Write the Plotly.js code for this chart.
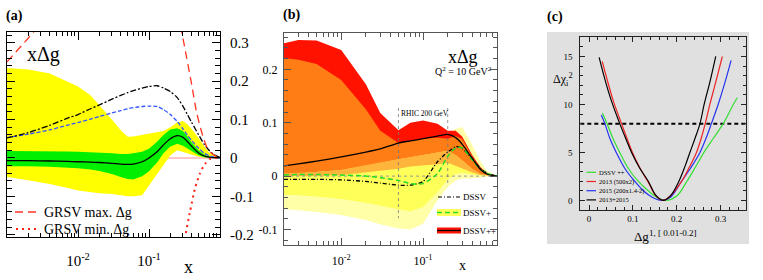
<!DOCTYPE html>
<html><head><meta charset="utf-8">
<script src="https://cdn.plot.ly/plotly-3.0.1.min.js"></script>
<style>html,body{margin:0;padding:0;background:#fff;}#chart{width:763px;height:280px;}</style>
</head><body><div id="chart"></div>
<script>
// ---------------- Panel (a) data ----------------
const xA = [0.001,0.002,0.004,0.007,0.01,0.015,0.02,0.03,0.04,0.05,0.06,0.08,0.1,0.13,0.16,0.2,0.25,0.3,0.35,0.4,0.5,0.6,0.7,0.8,1.0];
const aYellowUp = [0.234,0.23,0.22,0.2,0.186,0.163,0.138,0.1,0.072,0.055,0.056,0.06,0.063,0.066,0.07,0.08,0.093,0.096,0.087,0.075,0.052,0.03,0.015,0.007,0.001];
const aYellowLo = [-0.05,-0.058,-0.068,-0.078,-0.085,-0.089,-0.092,-0.094,-0.097,-0.1,-0.1,-0.097,-0.073,-0.042,-0.018,0.007,0.02,0.016,0.012,0.008,0.003,0.001,0,0,0];
const aGreenUp = [0.018,0.018,0.018,0.017,0.016,0.015,0.014,0.012,0.01,0.01,0.012,0.016,0.024,0.042,0.06,0.074,0.077,0.07,0.055,0.04,0.02,0.009,0.004,0.002,0];
const aGreenLo = [-0.022,-0.022,-0.023,-0.025,-0.027,-0.03,-0.034,-0.042,-0.05,-0.055,-0.056,-0.048,-0.035,-0.012,0.012,0.03,0.037,0.032,0.024,0.017,0.007,0.002,0.001,0,0];
const aCentral = [-0.007,-0.007,-0.008,-0.009,-0.01,-0.011,-0.012,-0.014,-0.016,-0.017,-0.016,-0.01,0.0,0.016,0.034,0.05,0.058,0.054,0.042,0.03,0.013,0.005,0.002,0.001,0];
const aGrsvStd = [0.052,0.066,0.085,0.103,0.113,0.128,0.138,0.153,0.163,0.17,0.175,0.182,0.186,0.188,0.182,0.173,0.157,0.135,0.112,0.092,0.06,0.035,0.02,0.01,0.001];
const aBlue = [0.053,0.062,0.073,0.085,0.092,0.101,0.108,0.117,0.123,0.128,0.131,0.134,0.135,0.134,0.126,0.113,0.095,0.076,0.058,0.045,0.025,0.012,0.006,0.003,0];
const grsvMaxX = [0.001,0.0025,0.004,0.01,0.05,0.15,0.25,0.34,0.4,0.466,0.55,0.65,0.76,0.9,1.0];
const grsvMaxY = [0.25,0.333,0.38,0.5,0.7,0.6,0.39,0.26,0.19,0.12,0.068,0.029,0.012,0.003,0];
const grsvMinX = [0.25,0.321,0.378,0.445,0.522,0.613,0.72,0.9,1.0];
const grsvMinY = [-0.35,-0.209,-0.14,-0.079,-0.04,-0.016,-0.003,0,0];
const aTickVals = [-0.2,-0.1,0,0.1,0.2,0.3];
const aTickText = ['-0.2','-0.1','0','0.1','0.2','0.3'];
const logTickVals = [0.01,0.1];
const logTickText = ['10<sup>-2</sup>','10<sup>-1</sup>'];

// ---------------- Panel (b) data ----------------
const xB = [0.002,0.003,0.005,0.01,0.02,0.03,0.05,0.07,0.1,0.15,0.2,0.25,0.3,0.4,0.5,0.6,0.8];
const bPaleUp = [0.221,0.218,0.21,0.18,0.125,0.085,0.062,0.066,0.07,0.072,0.078,0.088,0.092,0.058,0.028,0.01,0];
const bPaleLo = [-0.062,-0.064,-0.067,-0.073,-0.082,-0.09,-0.098,-0.1,-0.089,-0.045,-0.02,-0.008,-0.005,-0.004,-0.003,-0.001,0];
const bYellowLo = [-0.035,-0.036,-0.038,-0.043,-0.05,-0.055,-0.062,-0.066,-0.058,-0.03,-0.006,0.004,0.006,0.003,0.001,0,0];
const bRedUp = [0.249,0.255,0.254,0.236,0.172,0.118,0.086,0.1,0.104,0.098,0.085,0.085,0.074,0.039,0.017,0.006,0];
const bOrangeUp = [0.221,0.218,0.21,0.18,0.125,0.085,0.062,0.066,0.07,0.072,0.07,0.075,0.07,0.036,0.015,0.005,0];
const bOrangeLo = [0.005,0.006,0.008,0.012,0.02,0.025,0.032,0.036,0.04,0.045,0.048,0.04,0.03,0.014,0.005,0.002,0];
const bLightOrangeLo = [0.0,0.0,0.0,0.002,0.006,0.01,0.014,0.018,0.02,0.022,0.025,0.02,0.015,0.007,0.002,0.001,0];
const bDSSV = [-0.006,-0.006,-0.006,-0.007,-0.01,-0.013,-0.017,-0.017,-0.01,0.027,0.045,0.055,0.052,0.032,0.015,0.006,0];
const bDSSVp = [0.002,0.003,0.003,0.002,0.0,-0.003,-0.008,-0.014,-0.014,0.005,0.037,0.053,0.053,0.03,0.013,0.005,0];
const bDSSVpp = [0.019,0.023,0.028,0.036,0.045,0.051,0.062,0.066,0.07,0.075,0.078,0.072,0.06,0.033,0.013,0.004,0];
const rhicX = [0.05,0.2];
const rhicTop = [0.1275,0.1275];
const rhicBottom = [-0.079,-0.019];
const bTickVals = [-0.1,0,0.1,0.2];
const bTickText = ['-0.1','0','0.1','0.2'];

// ---------------- Panel (c) data ----------------
const cGreenX = [0.0304,0.041,0.055,0.07,0.09,0.112,0.135,0.155,0.177,0.2,0.222,0.243,0.262,0.284,0.306,0.329,0.338];
const cGreenY = [9.1,8.0,6.4,5.0,3.3,2.0,1.0,0.3,0.0,0.45,1.9,3.5,5.0,6.5,8.0,10.0,10.7];
const cRedX = [0.03,0.04,0.055,0.074,0.087,0.099,0.117,0.135,0.152,0.169,0.186,0.21,0.228,0.245,0.256,0.265,0.2755,0.29,0.304];
const cRedY = [14.5,12.8,10.4,8.0,6.4,5.0,3.3,1.9,0.5,0.0,0.5,1.9,3.4,5.0,6.5,8.0,10.0,12.5,15.0];
const cBlueX = [0.028,0.036,0.048,0.062,0.082,0.104,0.125,0.145,0.165,0.185,0.211,0.232,0.253,0.267,0.279,0.2945,0.31,0.324];
const cBlueY = [8.9,8.0,6.4,5.0,3.3,2.0,0.95,0.3,0.0,0.3,2.0,3.4,5.0,6.5,8.0,10.0,12.3,14.6];
const cBlackX = [0.023,0.035,0.05,0.07,0.085,0.097,0.115,0.135,0.152,0.169,0.186,0.205,0.22,0.23,0.242,0.253,0.2625,0.276,0.289];
const cBlackY = [14.9,12.8,10.5,8.0,6.3,5.0,3.4,2.0,0.55,0.0,0.5,2.0,3.7,5.0,6.5,8.0,10.0,12.4,15.0];
const cThreshold = 8;
const cXTickVals = [0,0.1,0.2,0.3];
const cXTickText = ['0','0.1','0.2','0.3'];
const cYTickVals = [0,5,10,15];
const cYTickText = ['0','5','10','15'];
const cLegend = ['DSSV ++','2013 (500x2)','2015 (200x1.4-2)','2013+2015'];
const cColors = ['#33dd33','#ee2222','#2233ee','#000000'];

// ---------------- helpers ----------------
const SERIF = 'Liberation Serif';
const W = 763, H = 280;
const PX = p => p / W, PY = p => 1 - p / H;
function band(xs, up, lo, color, xa, ya) {
  return {x: xs.concat(xs.slice().reverse()), y: up.concat(lo.slice().reverse()),
    xaxis: xa, yaxis: ya, mode: 'lines', fill: 'toself', fillcolor: color,
    line: {width: 0, color: color}, hoverinfo: 'skip', showlegend: false};
}
function line(xs, ys, color, width, dash, xa, ya, shape, smooth) {
  return {x: xs, y: ys, xaxis: xa, yaxis: ya, mode: 'lines',
    line: {color: color, width: width, dash: dash || 'solid', shape: shape || 'spline', smoothing: smooth || 0.6},
    hoverinfo: 'skip', showlegend: false};
}
function logMinor(lo, hi) {
  const v = [];
  for (let d = -4; d <= 1; d++) for (let m = 2; m <= 9; m++) {
    const t = m * Math.pow(10, d); if (t > lo && t < hi) v.push(t);
  }
  return v;
}

const traces = [];
// Panel (a)
traces.push(line([xA[0], xA[xA.length-1]], [0, 0], '#ffb4b4', 1.5, 'solid', 'x', 'y', 'linear'));
traces.push(band(xA, aYellowUp, aYellowLo, '#ffff00', 'x', 'y'));
traces.push(band(xA, aGreenUp, aGreenLo, '#00ee00', 'x', 'y'));
traces.push(line(xA, aCentral, '#000000', 1.3, 'solid', 'x', 'y'));
traces.push(line(xA, aBlue, '#3355ff', 1.3, '4px,2px', 'x', 'y'));
traces.push(line(xA, aGrsvStd, '#000000', 1.3, '6px,2px,2px,2px', 'x', 'y'));
traces.push(line(grsvMaxX, grsvMaxY, '#ff3322', 1.3, '8px,5px', 'x', 'y'));
traces.push(line(grsvMinX, grsvMinY, '#ff2211', 2, '2px,4px', 'x', 'y'));

// Panel (b)
traces.push(band(xB, bPaleUp, bPaleLo, '#ffffa8', 'x2', 'y2'));
traces.push(band(xB, bOrangeUp, bYellowLo, '#ffff5a', 'x2', 'y2'));
traces.push(band(xB, bRedUp, bOrangeLo, '#ff1200', 'x2', 'y2'));
traces.push(band(xB, bOrangeUp, bOrangeLo, '#ff7d14', 'x2', 'y2'));
traces.push(band(xB, bOrangeLo, bLightOrangeLo, '#ffb43c', 'x2', 'y2'));
traces.push(line([xB[0], xB[xB.length-1]], [0, 0], '#999999', 1, 'dot', 'x2', 'y2', 'linear'));
for (let i = 0; i < rhicX.length; i++)
  traces.push(line([rhicX[i], rhicX[i]], [rhicTop[i], rhicBottom[i]], '#777777', 0.8, 'dot', 'x2', 'y2', 'linear'));
traces.push(line(xB, bDSSV, '#000000', 1.3, '4px,2px,1px,2px', 'x2', 'y2'));
traces.push(line(xB, bDSSVp, '#22dd22', 1.5, '5px,3px', 'x2', 'y2'));
traces.push(line(xB, bDSSVpp, '#000000', 1.3, 'solid', 'x2', 'y2'));

// Panel (c)
traces.push(line([-0.02, 0.358], [cThreshold, cThreshold], '#000000', 2, '4px,3px', 'x3', 'y3', 'linear'));
traces.push(line(cGreenX, cGreenY, cColors[0], 1.2, 'solid', 'x3', 'y3', 'spline', 1));
traces.push(line(cBlueX, cBlueY, cColors[2], 1.2, 'solid', 'x3', 'y3', 'spline', 1));
traces.push(line(cRedX, cRedY, cColors[1], 1.2, 'solid', 'x3', 'y3', 'spline', 1));
traces.push(line(cBlackX, cBlackY, cColors[3], 1.2, 'solid', 'x3', 'y3', 'spline', 1));

const axBase = {showline: true, linecolor: '#000', linewidth: 1, mirror: 'allticks', ticks: 'inside',
  tickcolor: '#000', tickwidth: 1, showgrid: false, zeroline: false, fixedrange: true};

const layout = {
  width: W, height: H, margin: {l: 0, r: 0, t: 0, b: 0}, paper_bgcolor: '#fff', plot_bgcolor: 'rgba(0,0,0,0)',
  showlegend: false, font: {family: SERIF, color: '#000'},
  xaxis: Object.assign({}, axBase, {domain: [PX(7), PX(220)], anchor: 'y', type: 'log', range: [-3, 0],
    tickvals: logTickVals, ticktext: logTickText, ticklen: 8, tickfont: {size: 15, family: SERIF},
    ticklabelstandoff: 10, minor: {tickvals: logMinor(0.001, 1), ticklen: 4, ticks: 'inside', tickcolor: '#000'}}),
  yaxis: Object.assign({}, axBase, {domain: [PY(237), PY(32)], anchor: 'x', side: 'right', range: [-0.206, 0.328],
    tickvals: aTickVals, ticktext: aTickText, ticklen: 8, tickfont: {size: 15, family: SERIF}, ticklabelstandoff: 6,
    minor: {dtick: 0.02, tick0: 0, ticklen: 5, ticks: 'inside', tickcolor: '#000'}}),
  xaxis2: Object.assign({}, axBase, {domain: [PX(284), PX(497)], anchor: 'y2', type: 'log',
    range: [Math.log10(0.002), Math.log10(0.8)], tickvals: logTickVals, ticktext: logTickText, ticklen: 7,
    linecolor: '#555', tickcolor: '#555', tickfont: {size: 12, family: SERIF}, ticklabelstandoff: 5,
    minor: {tickvals: logMinor(0.002, 0.8), ticklen: 4, ticks: 'inside', tickcolor: '#555'}}),
  yaxis2: Object.assign({}, axBase, {domain: [PY(245), PY(33)], anchor: 'x2', range: [-0.129, 0.268],
    tickvals: bTickVals, ticktext: bTickText, ticklen: 7, linecolor: '#555', tickcolor: '#555',
    tickfont: {size: 12, family: SERIF}, ticklabelstandoff: 3,
    minor: {dtick: 0.02, tick0: 0, ticklen: 4, ticks: 'inside', tickcolor: '#555'}}),
  xaxis3: Object.assign({}, axBase, {domain: [PX(580.3), PX(746)], anchor: 'y3', range: [-0.02, 0.358],
    tickvals: cXTickVals, ticktext: cXTickText, ticklen: 5, linecolor: '#222', tickcolor: '#222',
    tickfont: {size: 9, family: SERIF}, ticklabelstandoff: 0,
    minor: {dtick: 0.02, tick0: 0, ticklen: 3, ticks: 'inside', tickcolor: '#222'}}),
  yaxis3: Object.assign({}, axBase, {domain: [PY(210), PY(37.3)], anchor: 'x3', range: [-1, 17],
    tickvals: cYTickVals, ticktext: cYTickText, ticklen: 5, linecolor: '#222', tickcolor: '#222',
    tickfont: {size: 9, family: SERIF}, ticklabelstandoff: 5,
    minor: {dtick: 1, tick0: 0, ticklen: 3, ticks: 'inside', tickcolor: '#222'}}),
  shapes: [
    {type: 'rect', xref: 'paper', yref: 'paper', x0: PX(547), x1: PX(749), y0: PY(244), y1: PY(32),
      fillcolor: '#e0e0e0', line: {width: 0}, layer: 'below'},
    {type: 'line', xref: 'paper', yref: 'paper', x0: PX(15), x1: PX(38), y0: PY(212), y1: PY(212),
      line: {color: '#ff3322', width: 1.3, dash: '8px,5px'}},
    {type: 'line', xref: 'paper', yref: 'paper', x0: PX(16), x1: PX(38), y0: PY(229), y1: PY(229),
      line: {color: '#ff2211', width: 2, dash: '2px,4px'}},
    {type: 'line', xref: 'paper', yref: 'paper', x0: PX(438), x1: PX(460), y0: PY(197), y1: PY(197),
      line: {color: '#000', width: 1.2, dash: '4px,2px,1px,2px'}},
    {type: 'rect', xref: 'paper', yref: 'paper', x0: PX(437), x1: PX(461), y0: PY(216), y1: PY(209),
      fillcolor: '#ffff5a', line: {width: 0}},
    {type: 'line', xref: 'paper', yref: 'paper', x0: PX(437), x1: PX(461), y0: PY(212.5), y1: PY(212.5),
      line: {color: '#22dd22', width: 1.5, dash: '5px,3px'}},
    {type: 'rect', xref: 'paper', yref: 'paper', x0: PX(437), x1: PX(461), y0: PY(233.5), y1: PY(227.5),
      fillcolor: '#ff1200', line: {width: 0}},
    {type: 'line', xref: 'paper', yref: 'paper', x0: PX(437), x1: PX(461), y0: PY(230.5), y1: PY(230.5),
      line: {color: '#000', width: 1.3}}
  ],
  annotations: []
};
for (let i = 0; i < cLegend.length; i++) {
  const yy = 172.3 + i * 9.2;
  layout.shapes.push({type: 'line', xref: 'paper', yref: 'paper', x0: PX(586.5), x1: PX(596), y0: PY(yy), y1: PY(yy),
    line: {color: cColors[i], width: 1.2}});
  layout.annotations.push({text: cLegend[i], xref: 'paper', yref: 'paper', x: PX(597.5), y: PY(yy),
    xanchor: 'left', yanchor: 'middle', showarrow: false, font: {size: 6.5, family: SERIF}, borderpad: 0});
}
function ann(text, x, y, size, opts) {
  layout.annotations.push(Object.assign({text: text, xref: 'paper', yref: 'paper', x: PX(x), y: PY(y),
    xanchor: 'left', yanchor: 'middle', showarrow: false, borderpad: 0,
    font: {size: size, family: SERIF, color: '#000'}}, opts || {}));
}
ann('<b>(a)</b>', 5, 16, 14);
ann('<b>(b)</b>', 282, 15, 14);
ann('<b>(c)</b>', 546, 17, 14);
ann('xΔg', 26, 55, 20);
ann('xΔg', 447, 57, 18);
ann('Q<sup>2</sup> = 10 GeV<sup>2</sup>', 434, 71, 10);
ann('RHIC 200 GeV', 400, 113, 7.5);
ann('x', 188, 267, 18, {xanchor: 'center'});
ann('x', 463, 265, 14, {xanchor: 'center'});
ann('GRSV max. Δg', 43, 212, 14);
ann('GRSV min. Δg', 43, 229, 14);
ann('DSSV', 462, 197, 9);
ann('DSSV+', 462, 212.5, 9);
ann('DSSV++', 462, 230.5, 9);
ann('Δχ<sub>i</sub><sup>2</sup>', 552, 79, 12);
ann('Δg<sup>1, [ 0.01-0.2]</sup>', 633, 236, 13);

Plotly.newPlot('chart', traces, layout, {staticPlot: true, displayModeBar: false});
</script>
</body></html>
